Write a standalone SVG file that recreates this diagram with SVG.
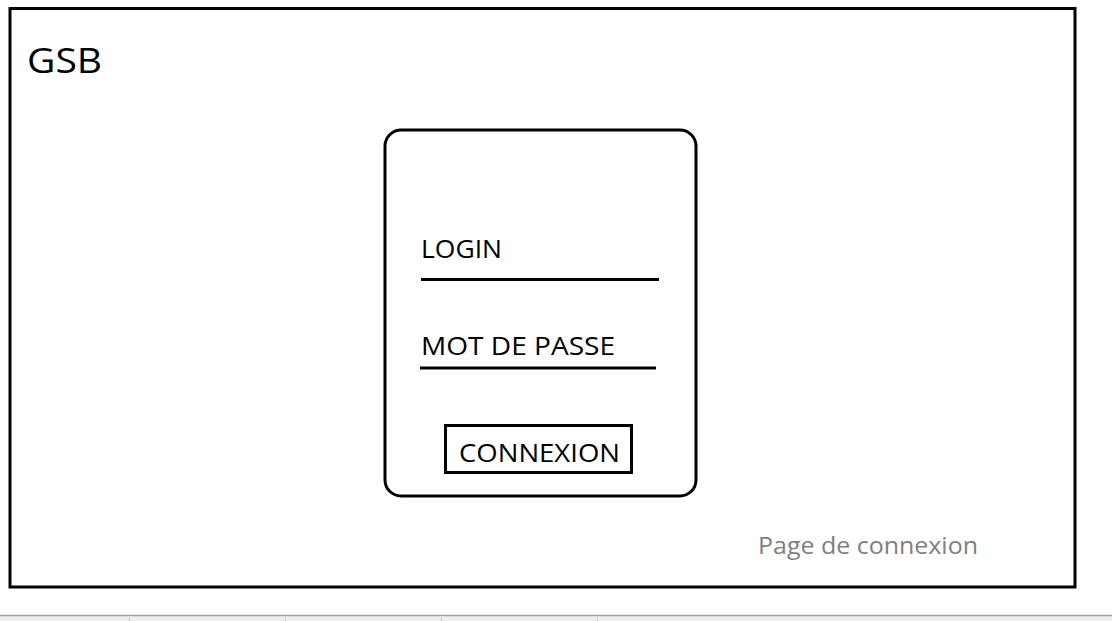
<svg xmlns="http://www.w3.org/2000/svg" width="1112" height="621" viewBox="0 0 1112 621">
<style>
.t{font-family:"Open Sans","Noto Sans","Liberation Sans",sans-serif;fill:#000}
.b{fill:none;stroke:#000;stroke-width:3}
</style>
<rect width="1112" height="621" fill="#fff"/>
<g id="page">
<rect class="b" x="10" y="8.5" width="1065" height="578.5"/>
<text class="t" x="27" y="73" font-size="35" textLength="75" lengthAdjust="spacingAndGlyphs">GSB</text>
<text class="t" x="758" y="554" font-size="24" style="fill:#7f7f7f" textLength="220" lengthAdjust="spacingAndGlyphs">Page de connexion</text>
</g>
<g id="card">
<rect class="b" x="385" y="130" width="311" height="366" rx="16"/>
</g>
<g id="login">
<text class="t" x="421" y="258" font-size="25" textLength="81" lengthAdjust="spacingAndGlyphs">LOGIN</text>
<line class="b" x1="421" y1="279.5" x2="659" y2="279.5"/>
</g>
<g id="password">
<text class="t" x="421" y="355" font-size="25" textLength="194" lengthAdjust="spacingAndGlyphs">MOT DE PASSE</text>
<line class="b" x1="420" y1="368" x2="656" y2="368"/>
</g>
<g id="button">
<rect class="b" x="445.5" y="425.5" width="186" height="47"/>
<text class="t" x="459" y="462" font-size="25" textLength="161" lengthAdjust="spacingAndGlyphs">CONNEXION</text>
</g>
<g id="connectors"></g>
<g id="tabbar">
<rect x="0" y="615" width="1112" height="6" fill="#f0efed"/>
<line x1="0" y1="615.5" x2="1112" y2="615.5" stroke="#a0a0a0" stroke-width="1.5"/>
<g stroke="#c8c8c8" stroke-width="1">
<line x1="129.5" y1="617" x2="129.5" y2="621"/>
<line x1="285.5" y1="617" x2="285.5" y2="621"/>
<line x1="441.5" y1="617" x2="441.5" y2="621"/>
<line x1="597.5" y1="617" x2="597.5" y2="621"/>
</g>
</g>
</svg>
